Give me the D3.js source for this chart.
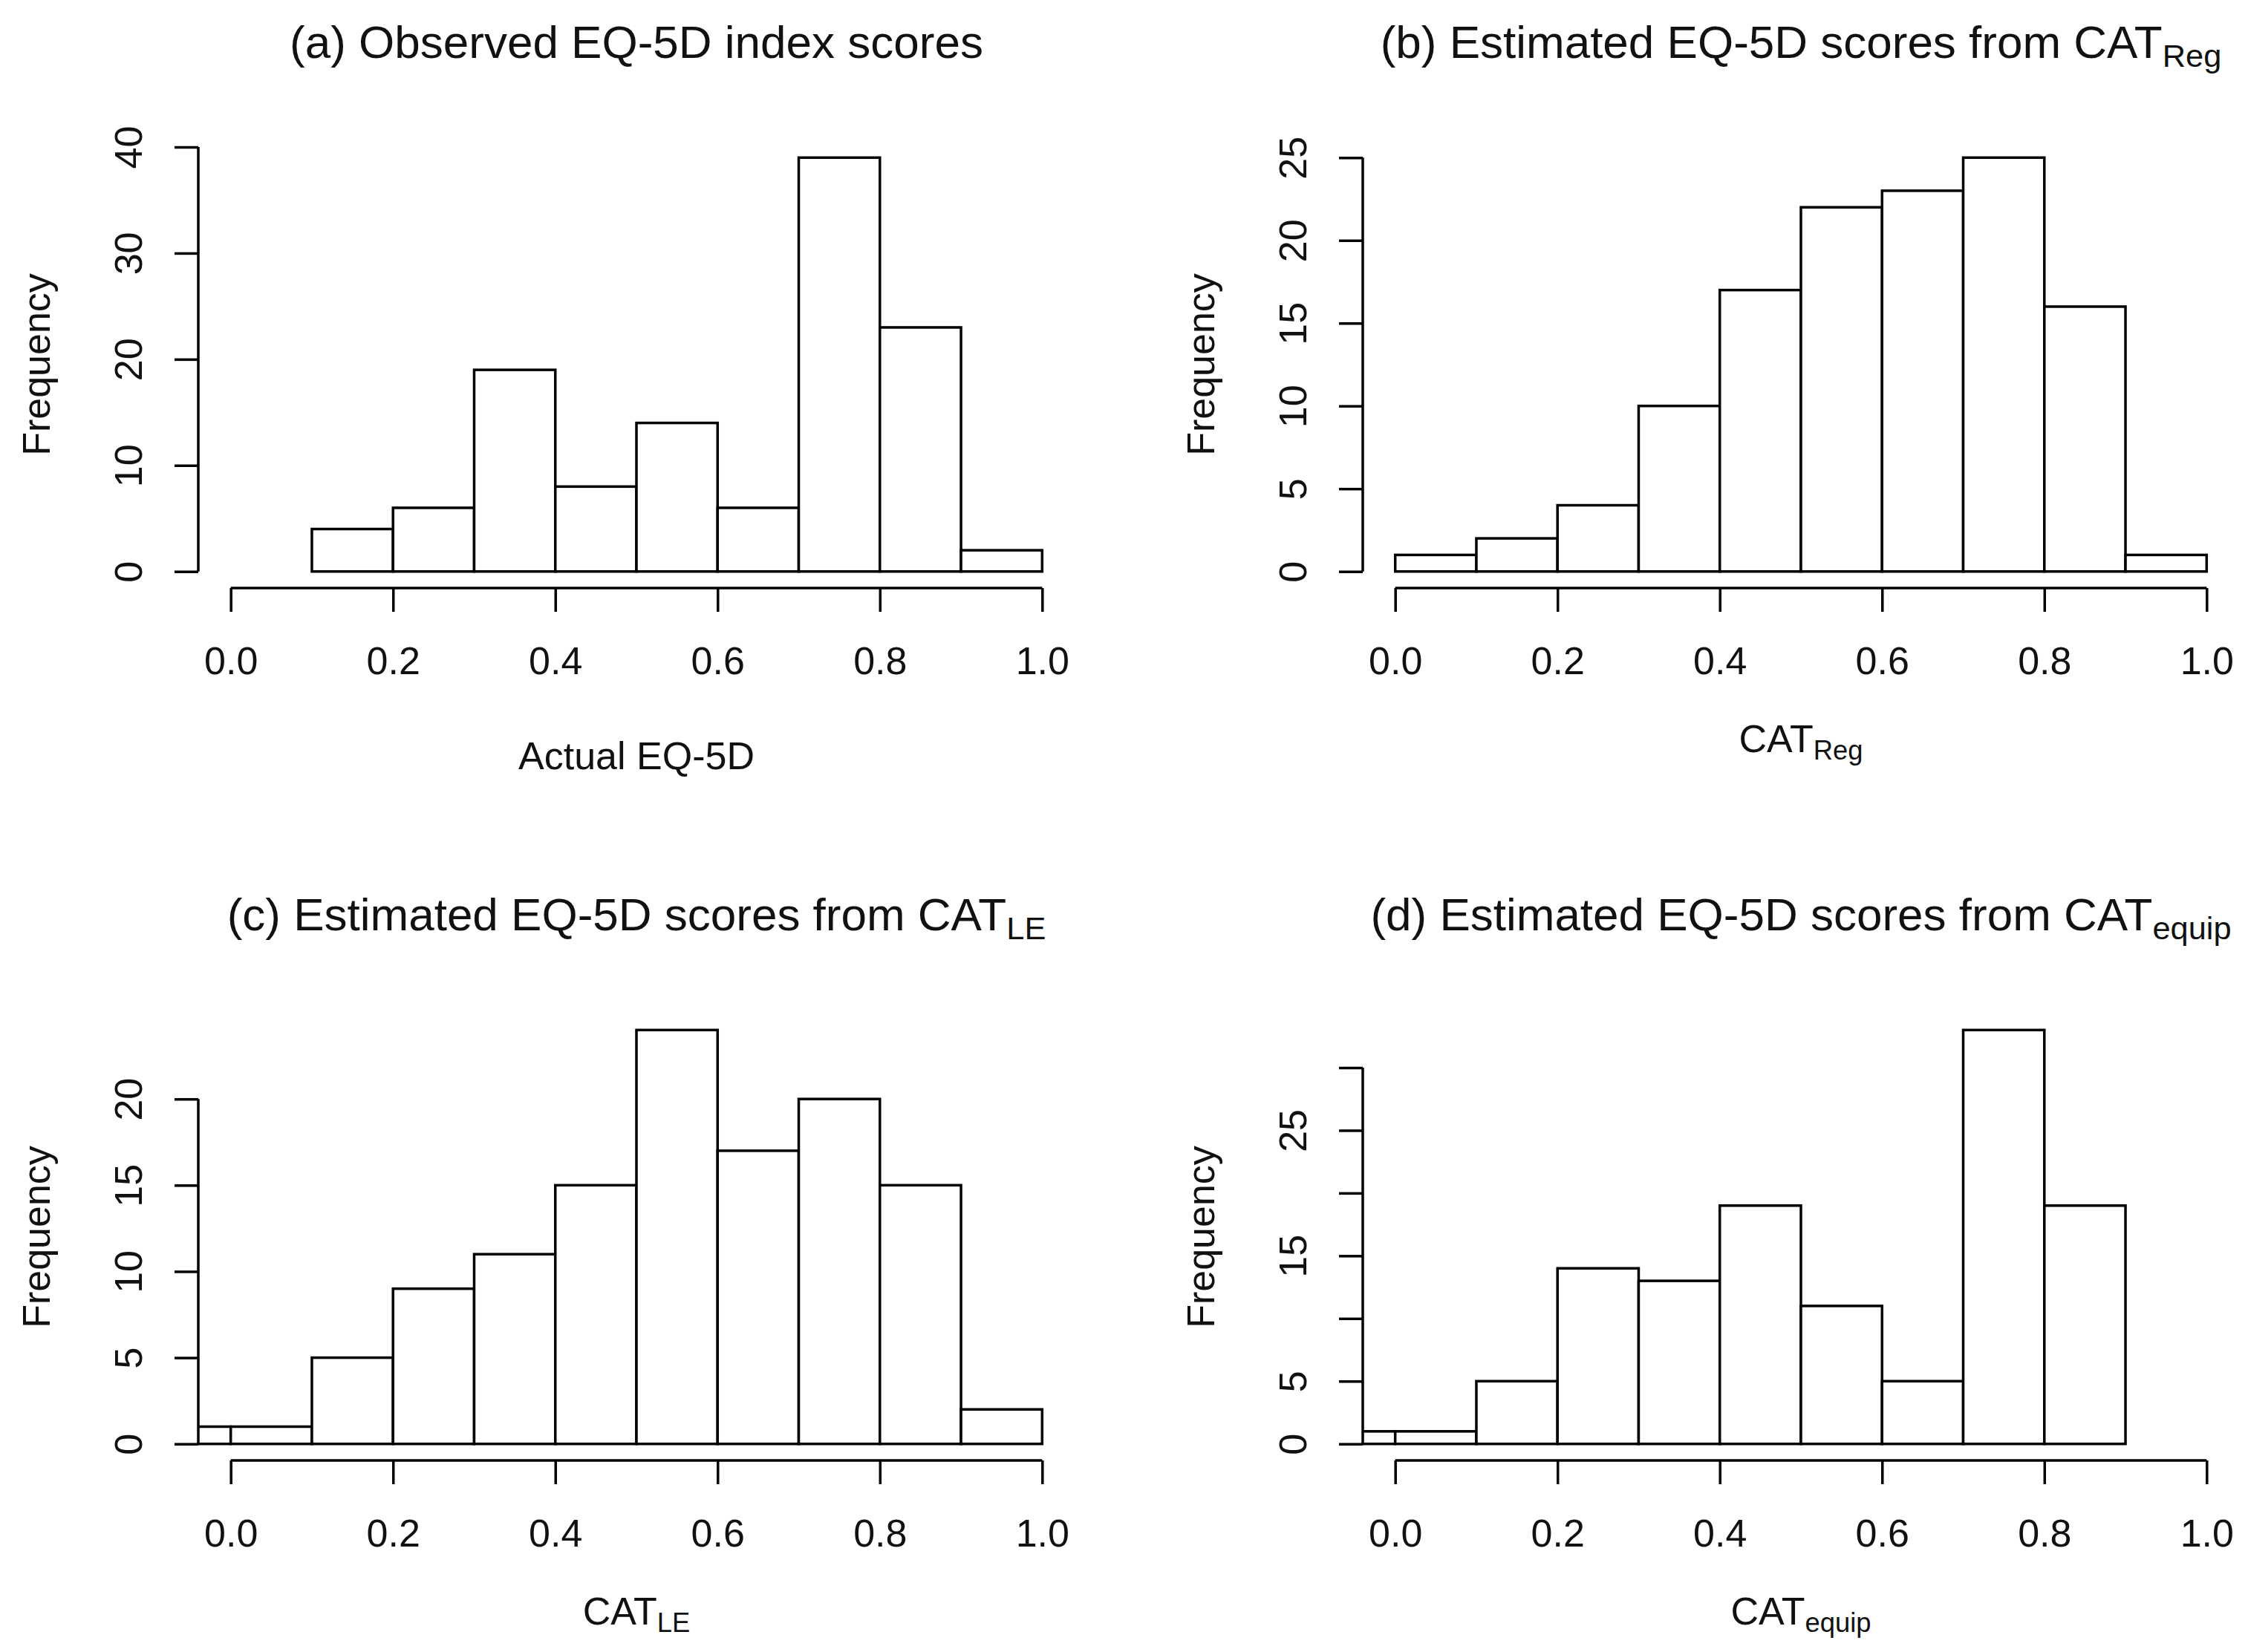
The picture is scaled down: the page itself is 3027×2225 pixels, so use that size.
<!DOCTYPE html>
<html>
<head>
<meta charset="utf-8">
<script src="https://cdn.jsdelivr.net/npm/d3@7"></script>
<style>
  body { margin: 0; background: #fff; }
  svg { display: block; font-family: "Liberation Sans", Arial, Helvetica, sans-serif; }
  .axis text { fill: #111; }
</style>
</head>
<body>
<div id="chart"></div>
<script>
// ---- data ----
const xTicks = [0, 0.2, 0.4, 0.6, 0.8, 1.0];

const breaksA = [0.1, 0.2, 0.3, 0.4, 0.5, 0.6, 0.7, 0.8, 0.9, 1.0];
const countsA = [4, 6, 19, 8, 14, 6, 39, 23, 2];
const yTicksA = [0, 10, 20, 30, 40];
const yLabelsA = ["0", "10", "20", "30", "40"];

const breaksB = [0, 0.1, 0.2, 0.3, 0.4, 0.5, 0.6, 0.7, 0.8, 0.9, 1.0];
const countsB = [1, 2, 4, 10, 17, 22, 23, 25, 16, 1];
const yTicksB = [0, 5, 10, 15, 20, 25];
const yLabelsB = ["0", "5", "10", "15", "20", "25"];

const breaksC = [-0.1, 0, 0.1, 0.2, 0.3, 0.4, 0.5, 0.6, 0.7, 0.8, 0.9, 1.0];
const countsC = [1, 1, 5, 9, 11, 15, 24, 17, 20, 15, 2];
const yTicksC = [0, 5, 10, 15, 20];
const yLabelsC = ["0", "5", "10", "15", "20"];

const breaksD = [-0.1, 0, 0.1, 0.2, 0.3, 0.4, 0.5, 0.6, 0.7, 0.8, 0.9];
const countsD = [1, 1, 5, 14, 13, 19, 11, 5, 33, 19];
const yTicksD = [0, 5, 10, 15, 20, 25, 30];
const yLabelsD = ["0", "5", "", "15", "", "25", ""];

const titleText = [
  "(a) Observed EQ-5D index scores",
  "(b) Estimated EQ-5D scores from CAT",
  "(c) Estimated EQ-5D scores from CAT",
  "(d) Estimated EQ-5D scores from CAT"
];
const titleSub = ["", "Reg", "LE", "equip"];
const xLabelText = ["Actual EQ-5D", "CAT", "CAT", "CAT"];
const xLabelSub = ["", "Reg", "LE", "equip"];
const yLabelText = "Frequency";

// ---- layout ----
const W = 3027, H = 2225;
const colX = [267, 1835];      // left edge of plot region per column
const rowY = [190, 1365];      // top edge of plot region per row
const plotW = 1180, plotH = 602;
const baseFont = 52, titleFont = 62;
const tickLen = 32;

const svg = d3.select("#chart")
  .append("svg")
  .attr("width", W)
  .attr("height", H);

svg.append("rect").attr("width", W).attr("height", H).attr("fill", "#fff");

const panels = [
  { breaks: breaksA, counts: countsA, yTicks: yTicksA, yLabels: yLabelsA, col: 0, row: 0 },
  { breaks: breaksB, counts: countsB, yTicks: yTicksB, yLabels: yLabelsB, col: 1, row: 0 },
  { breaks: breaksC, counts: countsC, yTicks: yTicksC, yLabels: yLabelsC, col: 0, row: 1 },
  { breaks: breaksD, counts: countsD, yTicks: yTicksD, yLabels: yLabelsD, col: 1, row: 1 }
];

// append text with an optional subscript part
function addText(sel, main, sub, size, shift) {
  sel.append("tspan").text(main);
  if (sub) {
    sel.append("tspan")
      .attr("dy", shift)
      .attr("font-size", size * 0.7)
      .text(sub);
  }
  return sel;
}

panels.forEach((p, i) => {
  const x0 = colX[p.col], y0 = rowY[p.row];
  const ymax = d3.max(p.counts);

  // R style usr range: 4% extension on each side
  const x = d3.scaleLinear().domain([-0.04, 1.04]).range([0, plotW]);
  const y = d3.scaleLinear().domain([-0.04 * ymax, 1.04 * ymax]).range([plotH, 0]);

  const g = svg.append("g").attr("transform", `translate(${x0},${y0})`);

  g.append("clipPath")
    .attr("id", `clip${i}`)
    .append("rect")
    .attr("width", plotW)
    .attr("height", plotH);

  const bins = p.counts.map((c, j) => ({ x0: p.breaks[j], x1: p.breaks[j + 1], count: c }));

  // bars
  g.append("g")
    .attr("clip-path", `url(#clip${i})`)
    .selectAll("rect")
    .data(bins)
    .join("rect")
    .attr("x", d => x(d.x0))
    .attr("y", d => y(d.count))
    .attr("width", d => x(d.x1) - x(d.x0))
    .attr("height", d => y(0) - y(d.count))
    .attr("fill", "#fff")
    .attr("stroke", "#000")
    .attr("stroke-width", 3.5);

  // x axis
  const xAxis = d3.axisBottom(x)
    .tickValues(xTicks)
    .tickSize(tickLen)
    .tickFormat(d3.format(".1f"));

  const xg = g.append("g")
    .attr("class", "axis")
    .attr("transform", `translate(0,${plotH})`)
    .call(xAxis);
  xg.select(".domain").remove();
  xg.selectAll(".tick line").attr("stroke", "#000").attr("stroke-width", 3.5);
  xg.selectAll(".tick text")
    .attr("y", 116)
    .attr("dy", 0)
    .attr("font-size", baseFont)
    .attr("font-family", null);
  xg.append("line")
    .attr("x1", x(xTicks[0]))
    .attr("x2", x(xTicks[xTicks.length - 1]))
    .attr("stroke", "#000")
    .attr("stroke-width", 3.5);

  // y axis
  const yAxis = d3.axisLeft(y)
    .tickValues(p.yTicks)
    .tickSize(tickLen)
    .tickFormat((d, k) => p.yLabels[k]);

  const yg = g.append("g")
    .attr("class", "axis")
    .call(yAxis);
  yg.select(".domain").remove();
  yg.selectAll(".tick line").attr("stroke", "#000").attr("stroke-width", 3.5);
  yg.selectAll(".tick text")
    .attr("x", 0)
    .attr("y", -76)
    .attr("dy", 0)
    .attr("transform", "rotate(-90)")
    .attr("text-anchor", "middle")
    .attr("font-size", baseFont)
    .attr("font-family", null);
  yg.append("line")
    .attr("y1", y(p.yTicks[0]))
    .attr("y2", y(p.yTicks[p.yTicks.length - 1]))
    .attr("stroke", "#000")
    .attr("stroke-width", 3.5);

  // title
  const title = g.append("text")
    .attr("x", plotW / 2)
    .attr("y", -112)
    .attr("text-anchor", "middle")
    .attr("font-size", titleFont)
    .attr("fill", "#111");
  addText(title, titleText[i], titleSub[i], titleFont, 12);

  // x label
  const xl = g.append("text")
    .attr("x", plotW / 2)
    .attr("y", plotH + (xLabelSub[i] ? 221 : 244))
    .attr("text-anchor", "middle")
    .attr("font-size", baseFont)
    .attr("fill", "#111");
  addText(xl, xLabelText[i], xLabelSub[i], baseFont, 10);

  // y label
  g.append("text")
    .attr("transform", `translate(-200,${plotH / 2}) rotate(-90)`)
    .attr("text-anchor", "middle")
    .attr("font-size", baseFont)
    .attr("fill", "#111")
    .text(yLabelText);
});
</script>
</body>
</html>
